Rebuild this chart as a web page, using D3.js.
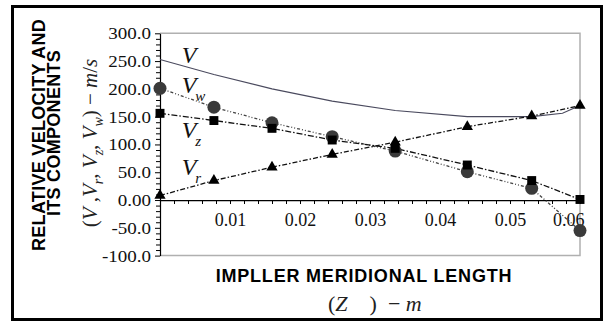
<!DOCTYPE html>
<html>
<head>
<meta charset="utf-8">
<script src="https://cdn.jsdelivr.net/npm/d3@7"></script>
<style>
  html, body { margin: 0; padding: 0; background: #fff; }
  svg { display: block; }
</style>
</head>
<body>
<svg id="chart"></svg>
<script>
// Relative velocity components along the impeller meridional length

// --- Data ---
const zPos   = [0, 0.0077, 0.016, 0.0246, 0.0336, 0.0439, 0.0531, 0.0600];
const vwVals = [201, 167, 139, 114, 88, 51, 21, -55];   // circles
const vzVals = [156, 143, 129, 108, 93, 63, 35, 1];     // squares
const vrVals = [8, 35, 59, 82, 104, 132, 151, 170];     // triangles

// total relative velocity V (plain line, no markers)
const vLineZ   = [0, 0.0077, 0.016, 0.0246, 0.0336, 0.0439, 0.0531, 0.0575, 0.0600];
const vLineVal = [253, 226, 200, 178, 161, 150, 150, 156, 170];

const yTickVals   = [300, 250, 200, 150, 100, 50, 0, -50, -100];
const yTickLabels = ["300.0", "250.0", "200.0", "150.0", "100.0", "50.0", "0.00", "-50.0", "-100.0"];
const xTickVals   = [0.01, 0.02, 0.03, 0.04, 0.05, 0.06];
const xTickLabels = ["0.01", "0.02", "0.03", "0.04", "0.05", "0.06"];

// series labels placed in data coordinates
const seriesLabels = [
  { base: "V", sub: "",  z: 0.0031, v: 246 },
  { base: "V", sub: "w", z: 0.0031, v: 193 },
  { base: "V", sub: "z", z: 0.0031, v: 112 },
  { base: "V", sub: "r", z: 0.0031, v: 45 },
];

const width = 607;
const height = 322;
const plot = { left: 160, right: 580, top: 33.3, bottom: 255.6 };

const serif = "'Liberation Serif', 'Times New Roman', serif";
const sans = "'Liberation Sans', Arial, sans-serif";

const x = d3.scaleLinear().domain([0, 0.06]).range([plot.left, plot.right]);
const y = d3.scaleLinear().domain([-100, 300]).range([plot.bottom, plot.top]);

const svg = d3.select("#chart")
  .attr("width", width)
  .attr("height", height)
  .attr("viewBox", `0 0 ${width} ${height}`);

svg.append("rect").attr("width", width).attr("height", height).attr("fill", "#fff");

// outer frame
svg.append("rect")
  .attr("x", 12.5).attr("y", 6.5)
  .attr("width", 589).attr("height", 313)
  .attr("fill", "none")
  .attr("stroke", "#000")
  .attr("stroke-width", 3);

// plot box (light gray top/right/bottom)
svg.append("path")
  .attr("d", `M${plot.left},${plot.top}H${plot.right}V${plot.bottom}H${plot.left}`)
  .attr("fill", "none")
  .attr("stroke", "#b0b0b0")
  .attr("stroke-width", 1.5);

// --- Y axis ---
const yMinor = d3.range(-100, 301, 10).filter(v => v % 50 !== 0);
svg.append("g")
  .attr("transform", `translate(${plot.left},0)`)
  .call(d3.axisLeft(y).tickValues(yMinor).tickSize(4).tickFormat(""))
  .call(g => g.select(".domain").remove())
  .selectAll("line").attr("stroke", "#000");

const yAxis = svg.append("g")
  .attr("transform", `translate(${plot.left},0)`)
  .call(d3.axisLeft(y)
    .tickValues(yTickVals)
    .tickSize(5)
    .tickPadding(3)
    .tickSizeOuter(0)
    .tickFormat((d, i) => yTickLabels[i]));
yAxis.attr("font-family", serif);
yAxis.select(".domain").attr("stroke", "#000").attr("stroke-width", 1.2);
yAxis.selectAll("text")
  .attr("font-family", serif)
  .attr("font-size", 17)
  .attr("fill", "#111")
  .attr("transform", "scale(1.12,1)");

// --- X axis at y = 0 ---
const xMinor = d3.range(0, 0.0601, 0.002);
svg.append("g")
  .attr("transform", `translate(0,${y(0)})`)
  .call(d3.axisBottom(x).tickValues(xMinor).tickSize(4).tickFormat(""))
  .call(g => g.select(".domain").remove())
  .selectAll("line").attr("stroke", "#000");

const xAxis = svg.append("g")
  .attr("transform", `translate(0,${y(0)})`)
  .call(d3.axisBottom(x)
    .tickValues(xTickVals)
    .tickSize(4)
    .tickPadding(9)
    .tickSizeOuter(0)
    .tickFormat((d, i) => xTickLabels[i]));
xAxis.attr("font-family", serif);
xAxis.select(".domain").attr("stroke", "#000").attr("stroke-width", 1.2);
xAxis.selectAll("text")
  .attr("font-family", serif)
  .attr("font-size", 18)
  .attr("fill", "#111");
// last label is pulled inside the box, as in the original
xAxis.selectAll(".tick").filter(d => d === 0.06).select("text")
  .attr("text-anchor", "end")
  .attr("dx", 4);

// --- Lines ---
const line = d3.line().x(d => x(d[0])).y(d => y(d[1]));

svg.append("path")
  .datum(vLineZ.map((z, i) => [z, vLineVal[i]]))
  .attr("d", line)
  .attr("fill", "none")
  .attr("stroke", "#4a4a5e")
  .attr("stroke-width", 1.1);

const series = [
  { vals: vwVals, color: "#444", dash: "3,2,1,2,1,2", shape: "circle" },
  { vals: vzVals, color: "#111", dash: "6,2,1.5,2", shape: "square" },
  { vals: vrVals, color: "#111", dash: "5,2,1.5,2", shape: "triangle" },
];

series.forEach(s => {
  svg.append("path")
    .datum(zPos.map((z, i) => [z, s.vals[i]]))
    .attr("d", line)
    .attr("fill", "none")
    .attr("stroke", s.color)
    .attr("stroke-width", 1.3)
    .attr("stroke-dasharray", s.dash);
});

// markers
const markerGroup = svg.append("g");
series.forEach(s => {
  const pts = zPos.map((z, i) => [z, s.vals[i]]);
  if (s.shape === "circle") {
    markerGroup.selectAll(null).data(pts).join("circle")
      .attr("cx", d => x(d[0])).attr("cy", d => y(d[1]))
      .attr("r", 6.5)
      .attr("fill", "#3a3a3a");
  } else {
    const sym = s.shape === "square"
      ? d3.symbol(d3.symbolSquare, 80)
      : d3.symbol(d3.symbolTriangle, 55);
    markerGroup.selectAll(null).data(pts).join("path")
      .attr("transform", d => `translate(${x(d[0])},${y(d[1])})`)
      .attr("d", sym)
      .attr("fill", "#000");
  }
});

// --- Series labels ---
seriesLabels.forEach(l => {
  const t = svg.append("text")
    .attr("x", x(l.z))
    .attr("y", y(l.v))
    .attr("font-family", serif)
    .attr("font-style", "italic")
    .attr("font-size", 24)
    .attr("fill", "#111");
  t.append("tspan").text(l.base);
  if (l.sub) {
    t.append("tspan")
      .attr("font-size", 15)
      .attr("dx", -1)
      .attr("dy", 8)
      .text(l.sub);
  }
});

// --- Y title (rotated) ---
svg.append("text")
  .attr("transform", "translate(45,135) rotate(-90)")
  .attr("text-anchor", "middle")
  .attr("font-family", sans)
  .attr("font-weight", "bold")
  .attr("font-size", 18)
  .attr("letter-spacing", 0.3)
  .attr("fill", "#000")
  .text("RELATIVE VELOCITY AND");

svg.append("text")
  .attr("transform", "translate(60,133) rotate(-90)")
  .attr("text-anchor", "middle")
  .attr("font-family", sans)
  .attr("font-weight", "bold")
  .attr("font-size", 18)
  .attr("letter-spacing", 0.3)
  .attr("fill", "#000")
  .text("ITS COMPONENTS");

const yMath = svg.append("text")
  .attr("transform", "translate(97,143) rotate(-90)")
  .attr("text-anchor", "middle")
  .attr("font-family", serif)
  .attr("font-style", "italic")
  .attr("font-size", 21)
  .attr("fill", "#222");
const mathParts = [
  ["(", "normal", 0], ["V", "italic", 0], [" ,", "normal", 0], ["V", "italic", 0],
  ["r", "italic", 1], [", ", "normal", 0], ["V", "italic", 0], ["z", "italic", 1],
  [", ", "normal", 0], ["V", "italic", 0], ["w", "italic", 1], [")", "normal", 0],
  [" \u2212 ", "normal", 0], ["m", "italic", 0], ["/", "normal", 0], ["s", "italic", 0],
];
let wasSub = false;
mathParts.forEach(([txt, style, sub]) => {
  const ts = yMath.append("tspan").attr("font-style", style).text(txt);
  if (sub && !wasSub) ts.attr("dy", 6).attr("font-size", 14);
  else if (!sub && wasSub) ts.attr("dy", -6);
  wasSub = !!sub;
});

// --- X title ---
svg.append("text")
  .attr("x", 364).attr("y", 282)
  .attr("text-anchor", "middle")
  .attr("font-family", sans)
  .attr("font-weight", "bold")
  .attr("font-size", 18)
  .attr("letter-spacing", 0.8)
  .attr("fill", "#000")
  .text("IMPLLER MERIDIONAL LENGTH");

const xMath = svg.append("text")
  .attr("x", 328).attr("y", 311)
  .attr("font-family", serif)
  .attr("font-size", 22)
  .attr("fill", "#222")
  .attr("xml:space", "preserve")
  .style("white-space", "pre");
xMath.append("tspan").text("(");
xMath.append("tspan").attr("font-style", "italic").text("Z");
xMath.append("tspan").text("    )  \u2212 ");
xMath.append("tspan").attr("font-style", "italic").text("m");
</script>
</body>
</html>
